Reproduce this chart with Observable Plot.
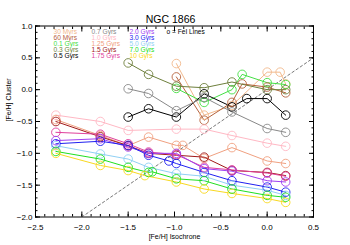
<!DOCTYPE html>
<html><head><meta charset="utf-8">
<script src="https://cdn.jsdelivr.net/npm/d3@7"></script>
<script src="https://cdn.jsdelivr.net/npm/@observablehq/plot@0.6"></script>
<style>body{margin:0;background:#fff}</style>
</head><body><div id="chart"></div>
<script>
// Ages (legend labels) and their colours
const ages = ["30 Myrs","60 Myrs","0.1 Gyrs","0.3 Gyrs","0.5 Gyrs","0.7 Gyrs","1.0 Gyrs","1.25 Gyrs","1.5 Gyrs","1.75 Gyrs","2.0 Gyrs","3.0 Gyrs","5.0 Gyrs","7.0 Gyrs","10 Gyrs"];
const colors = ["#f2b98c","#b5623c","#44e044","#6e7f3c","#000000","#888888","#ffb8c4","#f0a080","#a01818","#e0409c","#a040f0","#2020f0","#90d0f4","#20e020","#f8d820"];

// [Fe/H] isochrone (x) and [Fe/H] cluster (y) for each age
const x_30myr = [-0.98,-0.68,-0.38,0.0,0.14,0.2];
const y_30myr = [0.41,-0.40,-0.25,0.275,0.275,0.09];
const x_60myr = [-0.98,-0.68,-0.38,-0.27,0.0,0.2];
const y_60myr = [0.20,-0.48,-0.20,0.09,0.04,-0.05];
const x_01gyr = [-0.98,-0.68,-0.38,-0.27,0.0,0.2];
const y_01gyr = [0.02,-0.20,0.0,0.24,0.11,0.08];
const x_03gyr = [-1.5,-1.28,-0.98,-0.68,-0.38,0.0,0.2];
const y_03gyr = [0.42,0.24,0.055,0.03,0.12,0.0,0.0];
const x_05gyr = [-1.5,-1.28,-0.98,-0.68,-0.38,-0.22,0.0,0.2];
const y_05gyr = [-0.43,-0.30,-0.43,-0.065,-0.27,-0.14,-0.14,-0.40];
const x_07gyr = [-1.5,-1.28,-0.98,-0.68,-0.38,0.0,0.2];
const y_07gyr = [0.014,-0.06,-0.33,-0.12,-0.35,-0.61,-0.67];
const x_10gyr = [-2.28,-1.8,-1.5,-0.98,-0.68,-0.38,0.0,0.2];
const y_10gyr = [-0.40,-0.50,-0.64,-0.62,-0.62,-0.72,-0.84,-0.89];
const x_125gyr = [-2.28,-1.8,-1.5,-1.28,-0.98,-0.91,-0.68,-0.38,0.0,0.2];
const y_125gyr = [-0.47,-0.72,-0.88,-0.745,-0.875,-0.875,-1.08,-0.91,-1.12,-1.16];
const x_15gyr = [-2.28,-1.8,-1.5,-1.28,-0.98,-0.68,-0.38,0.0,0.2];
const y_15gyr = [-0.50,-0.74,-0.88,-1.0,-1.03,-1.06,-1.27,-1.30,-1.35];
const x_175gyr = [-2.28,-1.8,-1.5,-1.28,-0.98,-0.68,-0.38,0.0,0.2];
const y_175gyr = [-0.67,-0.70,-0.85,-0.98,-1.02,-1.22,-1.26,-1.31,-1.36];
const x_20gyr = [-2.28,-1.8,-1.5,-1.28,-0.98,-0.68,-0.38,0.0,0.2];
const y_20gyr = [-0.80,-0.77,-0.90,-1.0,-1.0,-1.24,-1.28,-1.43,-1.45];
const x_30gyr = [-2.28,-1.8,-1.5,-1.28,-1.06,-0.98,-0.68,-0.38,0.0,0.2];
const y_30gyr = [-0.85,-0.81,-0.875,-1.03,-1.12,-1.16,-1.30,-1.43,-1.53,-1.61];
const x_50gyr = [-2.28,-1.8,-1.5,-1.28,-0.98,-0.68,-0.38,0.0,0.2];
const y_50gyr = [-0.88,-1.01,-1.09,-1.22,-1.32,-1.36,-1.50,-1.58,-1.66];
const x_70gyr = [-2.28,-1.8,-1.5,-1.28,-1.24,-0.98,-0.68,-0.38,0.0,0.2];
const y_70gyr = [-0.97,-1.09,-1.22,-1.30,-1.29,-1.40,-1.43,-1.56,-1.66,-1.69];
const x_100gyr = [-2.28,-1.8,-1.5,-1.32,-0.98,-0.68,-0.38,0.0,0.2];
const y_100gyr = [-1.0,-1.19,-1.27,-1.35,-1.45,-1.56,-1.63,-1.71,-1.77];

// Axis ticks
const xTicks = [-2.5,-2.0,-1.5,-1.0,-0.5,0.0,0.5];
const yTicks = [-2.0,-1.5,-1.0,-0.5,0.0,0.5,1.0];
const xMinor = d3.range(-25, 6).map(d => d / 10);
const yMinor = d3.range(-20, 11).map(d => d / 10);
const identity = [-2.0, 0.5];

const seriesX = [x_30myr,x_60myr,x_01gyr,x_03gyr,x_05gyr,x_07gyr,x_10gyr,x_125gyr,x_15gyr,x_175gyr,x_20gyr,x_30gyr,x_50gyr,x_70gyr,x_100gyr];
const seriesY = [y_30myr,y_60myr,y_01gyr,y_03gyr,y_05gyr,y_07gyr,y_10gyr,y_125gyr,y_15gyr,y_175gyr,y_20gyr,y_30gyr,y_50gyr,y_70gyr,y_100gyr];
const rows = ages.flatMap((age, i) => seriesX[i].map((x, j) => ({age, x, y: seriesY[i][j]})));

const fmt = d3.format(".1f");
const mL = 35, mR = 37, mT = 25.5, mB = 28.5;
const blank = () => "";

const legend = ages.map((age, i) => Plot.text([age], {
  frameAnchor: "top-left", text: d => d, fill: d => d,
  dx: 18 + Math.floor(i / 5) * 38, dy: 3 + (i % 5) * 6.1,
  textAnchor: "start", fontSize: 6.6
}));

const chart = Plot.plot({
  width: 350, height: 245,
  marginLeft: mL, marginRight: mR, marginTop: mT, marginBottom: mB,
  x: {domain: [-2.5, 0.5]},
  y: {domain: [-2, 1]},
  color: {domain: ages, range: colors},
  style: {fontFamily: "'Liberation Sans', Arial, sans-serif", fontSize: "8px", color: "#000", background: "#fff"},
  marks: [
    Plot.line(identity, {x: d => d, y: d => d, stroke: "#555", strokeDasharray: "2.5,2.5", strokeWidth: 0.8, clip: true}),
    Plot.line(rows, {x: "x", y: "y", z: "age", stroke: "age", strokeWidth: 1, clip: true}),
    Plot.dot(rows, {x: "x", y: "y", stroke: "age", r: 4.3, strokeWidth: 0.9, fill: "none"}),
    Plot.frame({stroke: "#000", strokeWidth: 1}),
    Plot.axisX({anchor: "bottom", ticks: xTicks, tickSize: 0, tickPadding: 7, tickFormat: fmt, label: null, fontSize: 8}),
    Plot.axisX({anchor: "bottom", ticks: xTicks, tickSize: -5, tickFormat: blank, label: null}),
    Plot.axisX({anchor: "bottom", ticks: xMinor, tickSize: -2.5, tickFormat: blank, label: null}),
    Plot.axisX({anchor: "top", ticks: xTicks, tickSize: -5, tickFormat: blank, label: null}),
    Plot.axisX({anchor: "top", ticks: xMinor, tickSize: -2.5, tickFormat: blank, label: null}),
    Plot.axisY({anchor: "left", ticks: yTicks, tickSize: 0, tickPadding: 3, tickFormat: fmt, label: null, fontSize: 8}),
    Plot.axisY({anchor: "left", ticks: yTicks, tickSize: -5, tickFormat: blank, label: null}),
    Plot.axisY({anchor: "left", ticks: yMinor, tickSize: -2.5, tickFormat: blank, label: null}),
    Plot.axisY({anchor: "right", ticks: yTicks, tickSize: -5, tickFormat: blank, label: null}),
    Plot.axisY({anchor: "right", ticks: yMinor, tickSize: -2.5, tickFormat: blank, label: null}),
    Plot.text(["NGC 1866"], {frameAnchor: "top", dx: -4, dy: -10, fontSize: 10.5, text: d => d}),
    Plot.text(["[Fe/H] Isochrone"], {frameAnchor: "bottom", dy: 21.5, fontSize: 7, text: d => d}),
    Plot.text(["[Fe/H] Cluster"], {frameAnchor: "left", dx: -27, rotate: -90, fontSize: 7, text: d => d}),
    Plot.text(["o = FeI Lines"], {frameAnchor: "top-left", dx: 131, dy: 3, textAnchor: "start", fontSize: 6.6, text: d => d}),
    ...legend
  ]
});
document.getElementById("chart").append(chart);
</script>
</body></html>
